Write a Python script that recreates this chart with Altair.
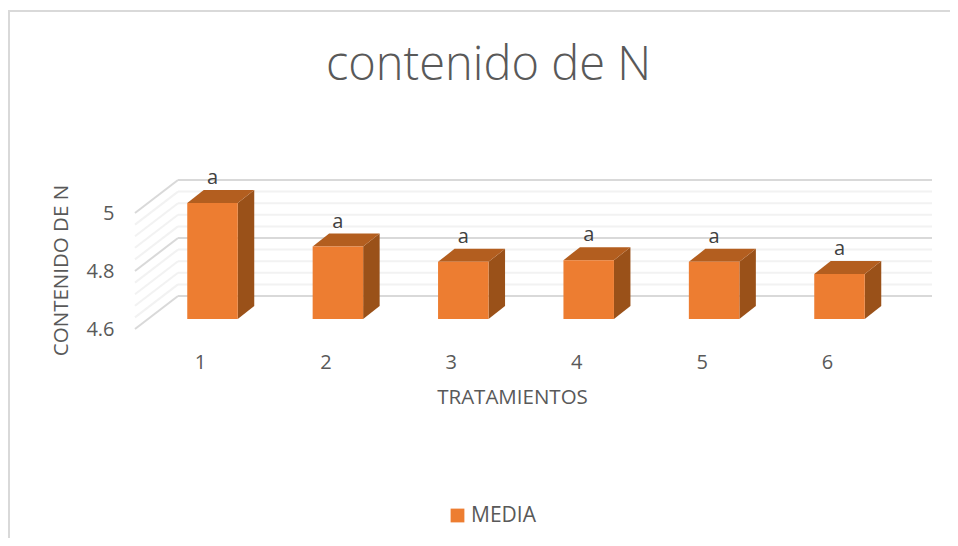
import altair as alt
import pandas as pd

treatments = [1, 2, 3, 4, 5, 6]
means = [5.0, 4.85, 4.797, 4.803, 4.797, 4.755]
letters = ["a", "a", "a", "a", "a", "a"]
minor_levels = [4.64, 4.68, 4.72, 4.76, 4.84, 4.88, 4.92, 4.96]
major_levels = [4.6, 4.8, 5.0]

FONT = "Open Sans"
TEXT = "#595959"
FLOOR = 4.6
PX_Y = 290.0      # px per value unit
PX_X = 125.4      # px per category
XMIN = 1 + (135 - 200) / PX_X
XMAX = 1 + (932 - 200) / PX_X
YMAX = FLOOR + 149 / PX_Y
WALL_X = 43 / PX_X
WALL_Y = 33 / PX_Y
BAR_SHIFT = 12.5 / PX_X
BAR_W = 50.5 / PX_X
DEPTH_X = 16.5 / PX_X
DEPTH_Y = 13 / PX_Y
MID_Y = 10 / PX_Y

x_scale = alt.Scale(domain=[XMIN, XMAX], nice=False, zero=False)
y_scale = alt.Scale(domain=[FLOOR, YMAX], nice=False, zero=False)

def grid_df(levels):
    return pd.DataFrame({
        "x0": XMIN, "x1": XMIN + WALL_X, "x2": XMAX,
        "y0": levels, "y1": [v + WALL_Y for v in levels],
    })

def grid(levels, color):
    d = alt.Chart(grid_df(levels))
    return [
        d.mark_rule(color=color, strokeWidth=2).encode(
            x=alt.X("x0:Q", scale=x_scale), x2="x1:Q",
            y=alt.Y("y0:Q", scale=y_scale), y2="y1:Q"),
        d.mark_rule(color=color, strokeWidth=2).encode(
            x=alt.X("x1:Q", scale=x_scale), x2="x2:Q",
            y=alt.Y("y1:Q", scale=y_scale)),
    ]

base = pd.DataFrame({"t": treatments, "m": means, "label": letters, "serie": "MEDIA"})
base["l"] = base.t + BAR_SHIFT - BAR_W / 2
base["r"] = base.l + BAR_W
base["bot"] = FLOOR + MID_Y
base["top"] = base.m + MID_Y

side = pd.concat([
    pd.DataFrame({"t": base.t, "x": base.r, "lo": base.bot, "hi": base.top}),
    pd.DataFrame({"t": base.t, "x": base.r + DEPTH_X, "lo": base.bot + DEPTH_Y, "hi": base.top + DEPTH_Y}),
])
top = pd.concat([
    pd.DataFrame({"t": base.t, "y": base.top, "a": base.l, "b": base.r}),
    pd.DataFrame({"t": base.t, "y": base.top + DEPTH_Y, "a": base.l + DEPTH_X, "b": base.r + DEPTH_X}),
])

axes = alt.Chart(base).mark_point(opacity=0).encode(
    x=alt.X("t:Q", scale=x_scale,
            axis=alt.Axis(values=treatments, format="d", title="TRATAMIENTOS", grid=False, domain=False,
                          ticks=False, labelPadding=23, labelFont=FONT, labelFontSize=20, labelColor=TEXT,
                          titleFont=FONT, titleFontSize=20.5, titleFontWeight="normal", titleColor=TEXT,
                          titleX=377, titleY=68, titleBaseline="middle")),
    y=alt.Y("m:Q", scale=y_scale,
            axis=alt.Axis(values=major_levels, format="~g", title="CONTENIDO DE N", grid=False, domain=False,
                          ticks=False, labelPadding=21, labelFont=FONT, labelFontSize=20, labelColor=TEXT,
                          titleFont=FONT, titleFontSize=20.5, titleFontWeight="normal", titleColor=TEXT,
                          titleX=-64, titleY=90)),
)

front = alt.Chart(base).mark_rect().encode(
    x=alt.X("l:Q", scale=x_scale), x2="r:Q",
    y=alt.Y("bot:Q", scale=y_scale), y2="top:Q",
    color=alt.Color("serie:N", scale=alt.Scale(range=["#ED7D31"]),
                    legend=alt.Legend(title=None, orient="none", legendX=312, legendY=325, symbolType="square",
                                      symbolSize=190, labelFont=FONT, labelFontSize=21, labelColor=TEXT,
                                      labelOffset=3)),
)

side_face = alt.Chart(side).mark_area(color="#9A5119", orient="vertical").encode(
    x=alt.X("x:Q", scale=x_scale),
    y=alt.Y("lo:Q", scale=y_scale, stack=None), y2="hi:Q",
    detail="t:N",
)
top_face = alt.Chart(top).mark_area(color="#B35E1F", orient="horizontal").encode(
    y=alt.Y("y:Q", scale=y_scale),
    x=alt.X("a:Q", scale=x_scale, stack=None), x2="b:Q",
    detail="t:N",
)

base["lx"] = base.l + BAR_W / 2
base["ly"] = base.top + DEPTH_Y
labels = alt.Chart(base).mark_text(font=FONT, fontSize=20, color="#404040", dy=-12).encode(
    x=alt.X("lx:Q", scale=x_scale), y=alt.Y("ly:Q", scale=y_scale), text="label:N",
)

frame_top = alt.Chart(base).mark_rule(color="#D9D9D9", strokeWidth=2).encode(
    x=alt.value(-127), x2=alt.value(815), y=alt.value(-169))
frame_left = alt.Chart(base).mark_rule(color="#D9D9D9", strokeWidth=2).encode(
    x=alt.value(-126), y=alt.value(-169), y2=alt.value(358))

layers = [frame_top, frame_left] + grid(minor_levels, "#F2F2F2") + grid(major_levels, "#D9D9D9") + [
    axes, side_face, top_face, front, labels]

chart = alt.layer(*layers).properties(
    width=797, height=149,
    padding={"left": 127, "top": 172, "right": 18, "bottom": 209},
    autosize=alt.AutoSizeParams(type="none"),
    background="#FFFFFF",
    title=alt.TitleParams("contenido de N", font=FONT, fontSize=47, fontWeight=300, color=TEXT,
                          anchor="middle", frame="group", dx=-45, offset=0, dy=80),
).configure_view(stroke=None)

chart.save("out.html", embed_options={"renderer": "svg", "actions": False})
